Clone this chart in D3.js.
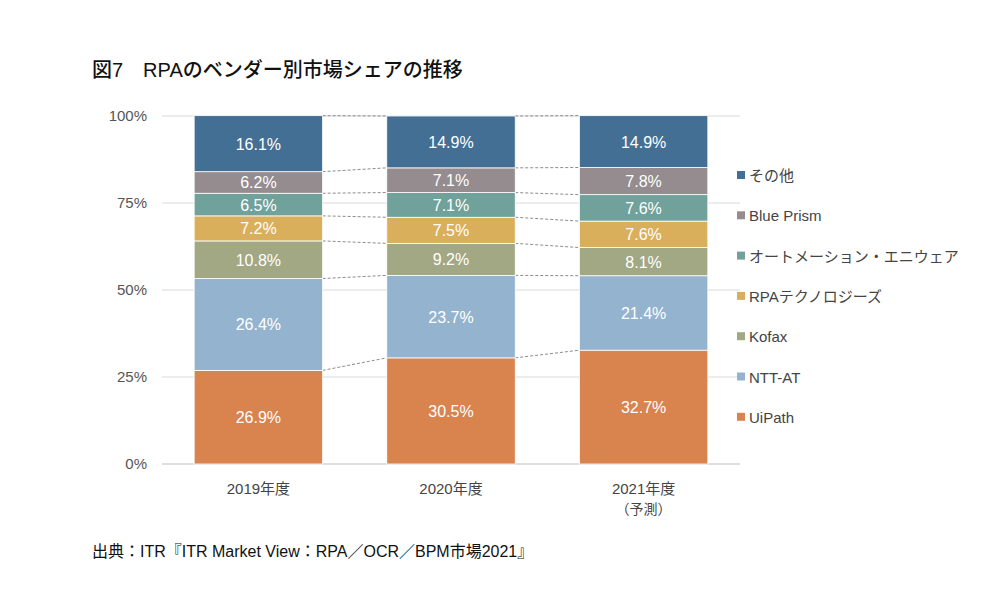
<!DOCTYPE html>
<html><head><meta charset="utf-8">
<script src="https://cdn.jsdelivr.net/npm/d3@7"></script>
<style>body{margin:0;background:#fff;} svg text{font-family:"Liberation Sans",Arial,"Noto Sans CJK JP",sans-serif;}</style>
</head><body><svg id="c" width="1003" height="600"></svg>
<script>
const categories = ["2019年度","2020年度","2021年度"];
const seriesNames = ["UiPath","NTT-AT","Kofax","RPAテクノロジーズ","オートメーション・エニウェア","Blue Prism","その他"];
const colors = ["#D9834F","#93B3CF","#A2A784","#D9AF5C","#71A19B","#948C8F","#446F94"];
const UiPath = [26.9,30.5,32.7];
const NTTAT = [26.4,23.7,21.4];
const Kofax = [10.8,9.2,8.1];
const RPATech = [7.2,7.5,7.6];
const AA = [6.5,7.1,7.6];
const BluePrism = [6.2,7.1,7.8];
const Other = [16.1,14.9,14.9];
const yTicks = [0,25,50,75,100];
const seriesVals = [UiPath,NTTAT,Kofax,RPATech,AA,BluePrism,Other];

const svg = d3.select("#c");
const x = d3.scaleBand().domain(categories).range([162,740]).paddingInner(0.333).paddingOuter(0.167);
const y = d3.scaleLinear().domain([0,100]).range([464,116]);

svg.append("text").attr("x",92).attr("y",77).attr("font-size",20).attr("font-weight","500").attr("fill","#111").text("図7　RPAのベンダー別市場シェアの推移");

svg.selectAll(".g").data(yTicks).join("line").attr("x1",162).attr("x2",740)
  .attr("y1",d=>y(d)).attr("y2",d=>y(d)).attr("stroke",d=>d===0?"#bfbfbf":"#d9d9d9").attr("stroke-width",1);
svg.selectAll(".yt").data(yTicks).join("text").attr("x",147).attr("y",d=>y(d)+5)
  .attr("text-anchor","end").attr("font-size",15).attr("fill","#555").text(d=>d+"%");

const tableRows = categories.map((c,i)=>{const o={cat:c};seriesNames.forEach((s,j)=>o[s]=seriesVals[j][i]);return o;});
const stack = d3.stack().keys(seriesNames)(tableRows);

stack.forEach(layer=>{
  for(let i=0;i<categories.length-1;i++){
    svg.append("line").attr("x1",x(categories[i])+x.bandwidth()).attr("x2",x(categories[i+1]))
      .attr("y1",y(layer[i][1])).attr("y2",y(layer[i+1][1]))
      .attr("stroke","#8c8c8c").attr("stroke-dasharray","3,2").attr("stroke-width",1);
  }
});

stack.forEach((layer,j)=>{
  const g = svg.append("g");
  g.selectAll("rect").data(layer).join("rect")
    .attr("x",d=>x(d.data.cat)).attr("width",x.bandwidth())
    .attr("y",d=>y(d[1])).attr("height",d=>y(d[0])-y(d[1]))
    .attr("fill",colors[j]).attr("stroke","#fff").attr("stroke-width",0.8);
  g.selectAll("text").data(layer).join("text")
    .attr("x",d=>x(d.data.cat)+x.bandwidth()/2).attr("y",d=>y((d[0]+d[1])/2)+6)
    .attr("text-anchor","middle").attr("font-size",16).attr("fill","#fff")
    .text(d=>(d[1]-d[0]).toFixed(1)+"%");
});

svg.selectAll(".xl").data(categories).join("text").attr("x",d=>x(d)+x.bandwidth()/2).attr("y",494)
  .attr("text-anchor","middle").attr("font-size",15).attr("fill","#444").text(d=>d);
svg.append("text").attr("x",x(categories[2])+x.bandwidth()/2).attr("y",514).attr("text-anchor","middle")
  .attr("font-size",14).attr("fill","#444").text("（予測）");

const leg = seriesNames.slice().reverse();
const legC = colors.slice().reverse();
leg.forEach((s,i)=>{
  const yy = 176 + i*40.3;
  svg.append("rect").attr("x",737).attr("y",yy-5).attr("width",8).attr("height",8).attr("fill",legC[i]);
  svg.append("text").attr("x",749).attr("y",yy+5).attr("font-size",15).attr("fill","#444").text(s);
});

svg.append("text").attr("x",92).attr("y",557).attr("font-size",16).attr("fill","#111").text("出典：ITR『ITR Market View：RPA／OCR／BPM市場2021』");
</script></body></html>
